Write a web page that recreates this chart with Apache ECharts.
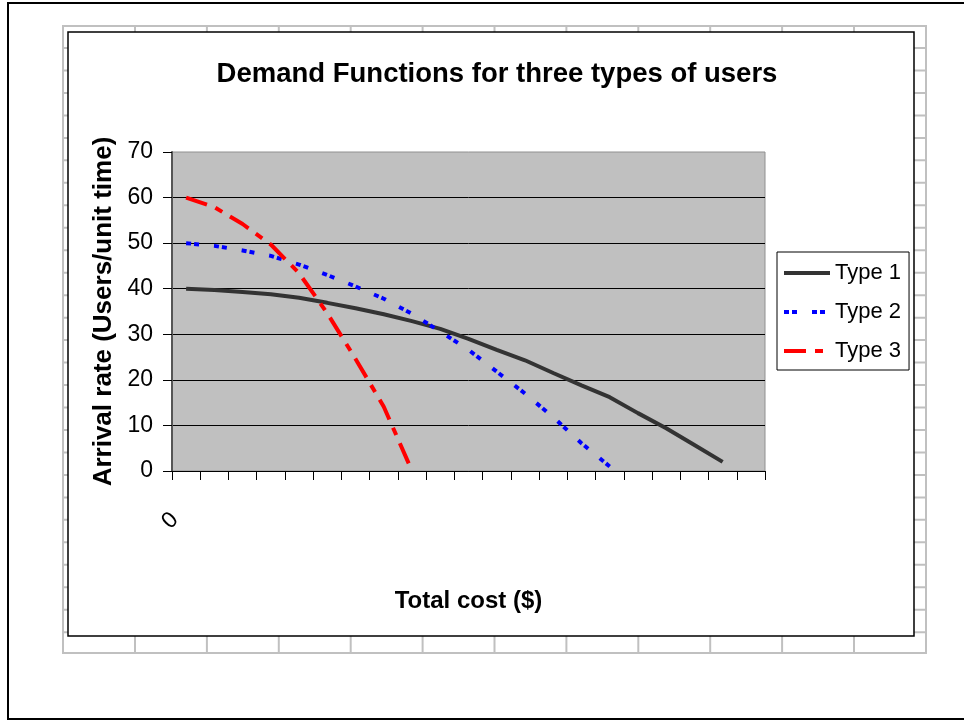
<!DOCTYPE html>
<html>
<head>
<meta charset="utf-8">
<script src="https://cdn.jsdelivr.net/npm/echarts@6/dist/echarts.min.js"></script>
<style>html,body{margin:0;padding:0;background:#fff}#c{width:964px;height:721px}</style>
</head>
<body>
<div id="c"></div>
<script>
// ---- data ----
var categories = ['0','','','','','','','','','','','','','','','','','','','',''];
var type1 = [40, 39.7, 39.3, 38.8, 38.0, 36.9, 35.7, 34.4, 32.9, 31.2, 29.0, 26.6, 24.3, 21.5, 18.8, 16.2, 12.7, 9.4, 5.7, 2.0];
var type2 = [50, 49.4, 48.4, 47.2, 45.3, 43.0, 40.5, 37.8, 34.5, 30.6, 26.6, 21.8, 17.0, 11.8, 6.1, 1.0];
var type3 = [60, 57.9, 54.2, 49.7, 43.4, 34.6, 24.6, 14.1, 0];
var seriesNames = ['Type 1', 'Type 2', 'Type 3'];
var yTicks = {min: 0, max: 70, interval: 10};

function hasFont(name){
  var c = document.createElement('canvas').getContext('2d');
  var t = 'Demand Functions 0123456789';
  c.font = '40px monospace'; var a = c.measureText(t).width;
  c.font = '40px "' + name + '", monospace'; var b = c.measureText(t).width;
  return Math.abs(a - b) > 0.5;
}
var narrow = hasFont('Liberation Sans Narrow');
var FF = narrow ? '"Liberation Sans Narrow", "Liberation Sans", Arial, sans-serif' : '"Liberation Sans", Arial, sans-serif';
var S = narrow ? {title: 34, yname: 32, tick: 26, legend: 26, xname: 29} : {title: 27.5, yname: 26, tick: 23, legend: 22, xname: 24};

// worksheet background cell lines (decoration)
var bg = [];
bg.push({type:'rect', z:-20, shape:{x:8, y:3, width:970, height:716}, style:{fill:'#fff', stroke:'#000', lineWidth:2}});
bg.push({type:'rect', z:-19, shape:{x:63, y:26, width:863, height:627}, style:{fill:'#fff', stroke:'#c0c0c0', lineWidth:2}});
for (var k = 0; k <= 10; k++) {
  var xx = 135 + k * 71.9;
  bg.push({type:'line', z:-18, shape:{x1:xx, y1:26, x2:xx, y2:653}, style:{stroke:'#c0c0c0', lineWidth:2}});
}
for (var r = 0; r <= 26; r++) {
  var yy = 48 + r * 22.47;
  bg.push({type:'line', z:-18, shape:{x1:63, y1:yy, x2:926, y2:yy}, style:{stroke:'#c0c0c0', lineWidth:2}});
}
bg.push({type:'rect', z:-17, shape:{x:68, y:32, width:846, height:604}, style:{fill:'#fff', stroke:'#000', lineWidth:1.5}});

var chart = echarts.init(document.getElementById('c'), null, {renderer:'canvas'});
chart.setOption({
  animation: false,
  backgroundColor: '#fff',
  textStyle: {fontFamily: FF, color: '#000'},
  graphic: bg,
  title: {
    text: 'Demand Functions for three types of users',
    left: 492, top: 55, textAlign: 'center',
    textStyle: {fontFamily: FF, fontSize: S.title, fontWeight: 'bold', color: '#000'}
  },
  legend: {
    orient: 'vertical', left: 777, top: 252,
    data: seriesNames,
    itemWidth: 46, itemHeight: 14, itemGap: 17,
    padding: [10, 8, 8, 5],
    backgroundColor: '#fff', borderColor: '#000', borderWidth: 1,
    itemStyle: {opacity: 0},
    lineStyle: {width: 4},
    textStyle: {fontFamily: FF, fontSize: S.legend, color: '#000'}
  },
  grid: {
    left: 172, right: 199, top: 152, bottom: 250,
    show: true, backgroundColor: '#c0c0c0', borderColor: '#909090', borderWidth: 1
  },
  xAxis: {
    type: 'category', data: categories, boundaryGap: true,
    name: 'Total cost ($)', nameLocation: 'middle', nameGap: 118,
    nameTextStyle: {fontFamily: FF, fontSize: S.xname, fontWeight: 'bold', color: '#000'},
    axisLine: {show: true, lineStyle: {color: '#000', width: 1}},
    axisTick: {show: true, length: 9, lineStyle: {color: '#000'}, interval: 0},
    axisLabel: {show: true, interval: 0, rotate: 45, margin: 34, padding: [0, 16, 0, 0],
      fontFamily: FF, fontSize: S.tick, color: '#000'},
    splitLine: {show: false}
  },
  yAxis: {
    type: 'value', min: yTicks.min, max: yTicks.max, interval: yTicks.interval,
    name: 'Arrival rate (Users/unit time)', nameLocation: 'middle', nameGap: 53,
    nameTextStyle: {fontFamily: FF, fontSize: S.yname, fontWeight: 'bold', color: '#000'},
    axisLine: {show: true, lineStyle: {color: '#555', width: 2}},
    axisTick: {show: true, length: 9, lineStyle: {color: '#000'}},
    axisLabel: {margin: 19, fontFamily: FF, fontSize: S.tick, color: '#000'},
    splitLine: {show: true, showMaxLine: false, lineStyle: {color: '#000', width: 1}}
  },
  series: [
    {name: seriesNames[0], type: 'line', data: type1, symbol: 'none', smooth: false,
     lineStyle: {color: '#333333', width: 4, type: 'solid'}, itemStyle: {color: '#333333'}},
    {name: seriesNames[1], type: 'line', data: type2, symbol: 'none', smooth: false,
     lineStyle: {color: '#0000ff', width: 4, type: [5, 3, 5, 15]}, itemStyle: {color: '#0000ff'}},
    {name: seriesNames[2], type: 'line', data: type3, symbol: 'none', smooth: false,
     lineStyle: {color: '#ff0000', width: 4, type: [22, 9, 8, 9]}, itemStyle: {color: '#ff0000'}}
  ]
});
</script>
</body>
</html>
